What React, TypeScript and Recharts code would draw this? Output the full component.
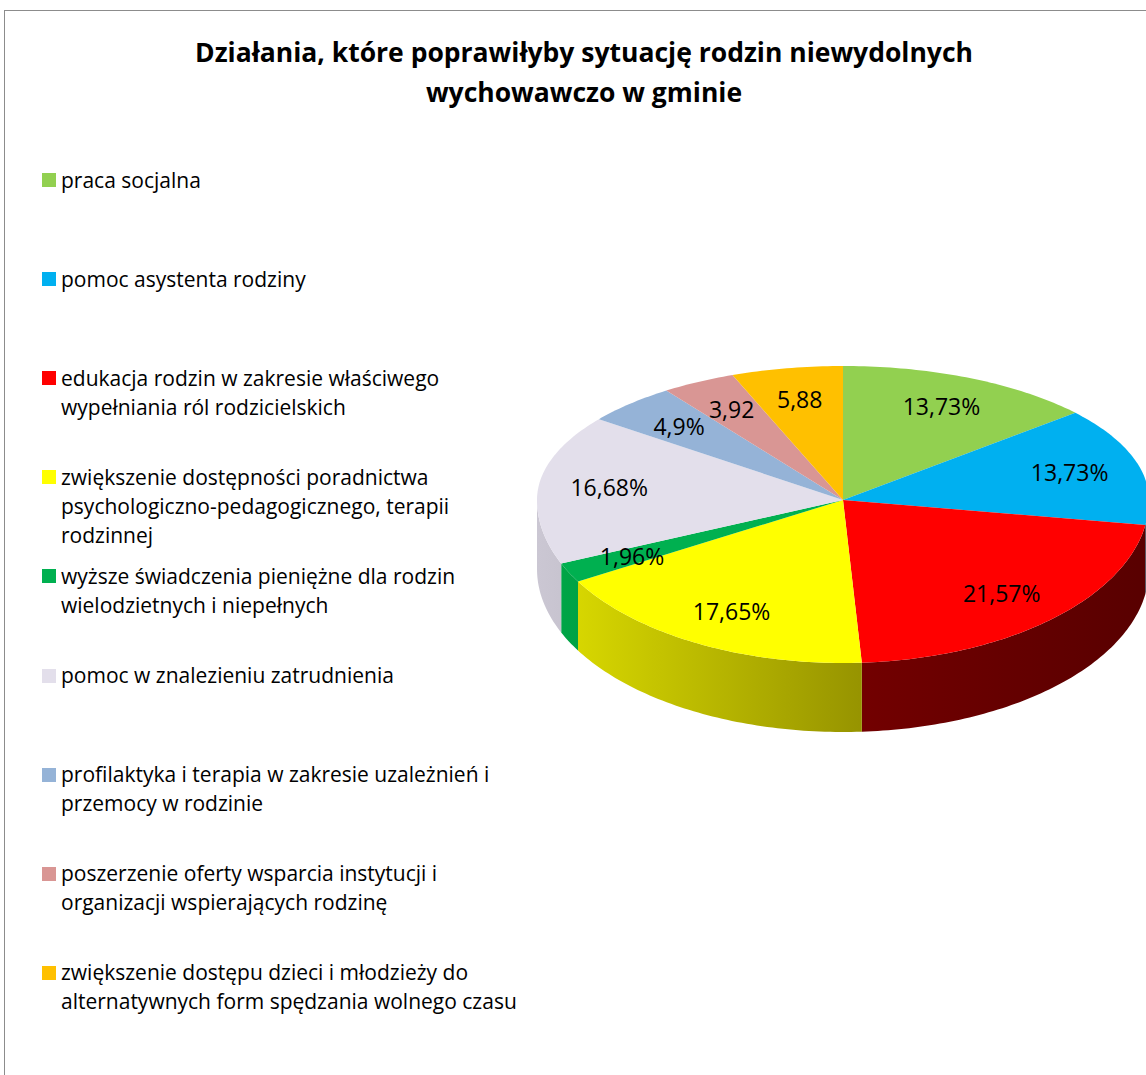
import React from 'react';
import { PieChart, Pie, Cell } from 'recharts';

// dane z wykresu
const categories = [
  'praca socjalna',
  'pomoc asystenta rodziny',
  'edukacja rodzin w zakresie właściwego\nwypełniania ról rodzicielskich',
  'zwiększenie dostępności poradnictwa\npsychologiczno-pedagogicznego, terapii\nrodzinnej',
  'wyższe świadczenia pieniężne dla rodzin\nwielodzietnych i niepełnych',
  'pomoc w znalezieniu zatrudnienia',
  'profilaktyka i terapia w zakresie uzależnień i\nprzemocy w rodzinie',
  'poszerzenie oferty wsparcia instytucji i\norganizacji wspierających rodzinę',
  'zwiększenie dostępu dzieci i młodzieży do\nalternatywnych form spędzania wolnego czasu',
];
const values = [13.73, 13.73, 21.57, 17.65, 1.96, 16.68, 4.9, 3.92, 5.88];
const valueLabels = ['13,73%', '13,73%', '21,57%', '17,65%', '1,96%', '16,68%', '4,9%', '3,92', '5,88'];

const colors = ['#92D050', '#00B0F0', '#FF0000', '#FFFF00', '#00B050', '#E3DFEB', '#95B3D7', '#D99694', '#FFC000'];
// boki "3D" - kolor z lewej i z prawej
const sideColors = [
  ['#80b848', '#3e5a22'],
  ['#009ad2', '#004a66'],
  ['#900000', '#580000'],
  ['#e0e000', '#555000'],
  ['#00a848', '#005020'],
  ['#cbc7d3', '#7a7880'],
  ['#8aa6c8', '#4a5a70'],
  ['#c88888', '#704848'],
  ['#e8b000', '#705400'],
];

const data = categories.map((name, i) => ({ name, value: values[i], idx: i }));

const CX = 843;
const CY = 500;
const RX = 306;
const K_BACK = 134 / 306;
const K_FRONT = 163 / 306;
const DEPTH = 69;
const FONT = '"Open Sans", Lato, sans-serif';

const pt = (cx: number, cy: number, r: number, deg: number, dy = 0) => {
  const a = (deg * Math.PI) / 180;
  const s = Math.sin(a);
  const k = s > 0 ? K_BACK : K_FRONT;
  return [cx + r * Math.cos(a), cy - r * k * s + dy];
};

const arc = (cx: number, cy: number, r: number, a0: number, a1: number, dy = 0) => {
  const n = Math.max(2, Math.ceil(Math.abs(a1 - a0)));
  const out: string[] = [];
  for (let i = 0; i <= n; i++) {
    const [x, y] = pt(cx, cy, r, a0 + ((a1 - a0) * i) / n, dy);
    out.push(`${x.toFixed(2)},${y.toFixed(2)}`);
  }
  return out;
};

const Slice3D = (props: any) => {
  const { cx, cy, outerRadius, startAngle, endAngle, fill } = props;
  const idx = props.payload?.idx ?? props.idx ?? 0;
  const lo = Math.min(startAngle, endAngle);
  const hi = Math.max(startAngle, endAngle);
  const top = arc(cx, cy, outerRadius, lo, hi);
  const sides: string[] = [];
  for (let k = -1; k <= 1; k++) {
    const f0 = Math.max(lo, -180 + 360 * k);
    const f1 = Math.min(hi, 360 * k);
    if (f1 > f0) {
      const t = arc(cx, cy, outerRadius, f0, f1);
      const b = arc(cx, cy, outerRadius, f1, f0, DEPTH);
      sides.push(`M${t.join(' L')} L${b.join(' L')} Z`);
    }
  }
  const gid = `side-grad-${idx}`;
  return (
    <g>
      <defs>
        <linearGradient id={gid} gradientUnits="userSpaceOnUse" x1={cx - outerRadius} y1={0} x2={cx + outerRadius} y2={0}>
          <stop offset="0%" stopColor={sideColors[idx][0]} />
          <stop offset="100%" stopColor={sideColors[idx][1]} />
        </linearGradient>
      </defs>
      {sides.map((d, i) => (
        <path key={i} d={d} fill={`url(#${gid})`} stroke="none" />
      ))}
      <path d={`M${cx},${cy} L${top.join(' L')} Z`} fill={fill} stroke="none" />
    </g>
  );
};

const renderLabel = (props: any) => {
  const { cx, cy, midAngle, outerRadius, index } = props;
  const [x, y] = pt(cx, cy, outerRadius * 0.77, midAngle);
  return (
    <text x={x} y={y} textAnchor="middle" dominantBaseline="central" fontSize={23} fontFamily={FONT} fill="#000">
      {valueLabels[index]}
    </text>
  );
};

const Legend = () => (
  <div style={{ position: 'absolute', left: 42, top: 0, fontFamily: FONT, fontSize: 21, color: '#000' }}>
    {categories.map((c, i) => (
      <div key={i} style={{ position: 'absolute', left: 0, top: 165.5 + i * 99.1, width: 500 }}>
        <div style={{ position: 'absolute', left: 0, top: 7.5, width: 14, height: 14, background: colors[i] }} />
        <div style={{ position: 'absolute', left: 19, top: 0, whiteSpace: 'pre', lineHeight: '29px' }}>{c}</div>
      </div>
    ))}
  </div>
);

export default function App() {
  return (
    <div style={{ position: 'fixed', left: 0, top: 0, width: 1146, height: 1075, overflow: 'hidden', background: '#fff' }}>
      <div
        style={{
          position: 'absolute',
          left: 4,
          top: 10,
          width: 1160,
          height: 1100,
          border: '1px solid #8c8c8c',
          boxSizing: 'border-box',
        }}
      />
      <div
        style={{
          position: 'absolute',
          left: 4,
          top: 32,
          width: 1160,
          textAlign: 'center',
          fontFamily: FONT,
          fontWeight: 700,
          fontSize: 26.5,
          lineHeight: '40px',
          color: '#000',
        }}
      >
        Działania, które poprawiłyby sytuację rodzin niewydolnych
        <br />
        wychowawczo w gminie
      </div>
      <Legend />
      <div style={{ position: 'absolute', left: 0, top: 0 }}>
        <PieChart width={1146} height={1075} margin={{ top: 0, right: 0, bottom: 0, left: 0 }}>
          <Pie
            data={data}
            dataKey="value"
            nameKey="name"
            cx={CX}
            cy={CY}
            outerRadius={RX}
            startAngle={90}
            endAngle={-270}
            stroke="none"
            shape={Slice3D}
            activeShape={Slice3D}
            inactiveShape={Slice3D}
            label={renderLabel}
            labelLine={false}
            isAnimationActive={false}
          >
            {data.map((d, i) => (
              <Cell key={d.name} fill={colors[i]} />
            ))}
          </Pie>
        </PieChart>
      </div>
    </div>
  );
}
